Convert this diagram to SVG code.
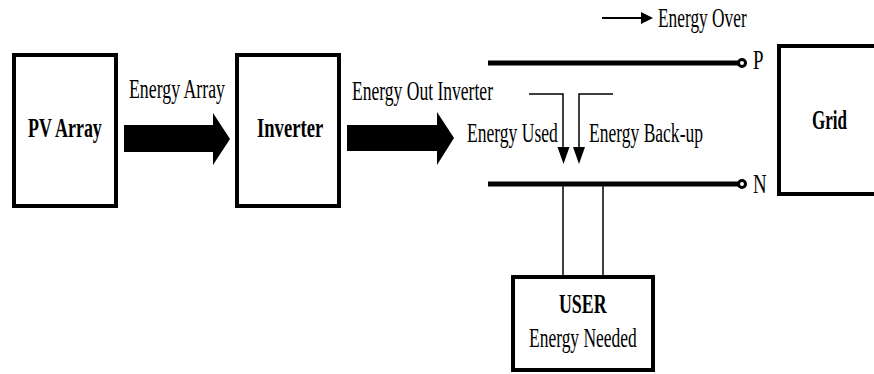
<svg xmlns="http://www.w3.org/2000/svg" width="874" height="374" viewBox="0 0 874 374">
  <style>
    .box { fill: #fff; stroke: #000; stroke-width: 4; }
    .thin { fill: none; stroke: #000; stroke-width: 1.5; }
    .bus { stroke: #000; stroke-width: 5; }
    .busShadow { stroke: #000; stroke-width: 5; opacity: 0.25; }
    .term { fill: #fff; stroke: #000; stroke-width: 3; }
    text { font-family: "Liberation Serif", "Times New Roman", "DejaVu Serif", serif; font-size: 27px; fill: #000; }
    .b { font-weight: bold; }
  </style>
  <defs>
    <filter id="blur" x="-5%" y="-200%" width="110%" height="500%">
      <feGaussianBlur stdDeviation="2"/>
    </filter>
  </defs>
  <rect width="874" height="374" fill="#fff"/>

  <g id="pv-array">
    <rect class="box" x="14" y="55" width="102" height="151"/>
    <text class="b" transform="translate(28,137) scale(0.664,1)">PV Array</text>
  </g>

  <g id="inverter">
    <rect class="box" x="237" y="55" width="102" height="151"/>
    <text class="b" transform="translate(257,137) scale(0.69,1)">Inverter</text>
  </g>

  <g id="grid">
    <rect class="box" x="779" y="46" width="110" height="148"/>
    <text class="b" transform="translate(812,129) scale(0.63,1)">Grid</text>
  </g>

  <g id="user">
    <rect class="box" x="513" y="277" width="140" height="93"/>
    <text class="b" transform="translate(559,313) scale(0.66,1)">USER</text>
    <text transform="translate(529,347) scale(0.647,1)">Energy Needed</text>
  </g>

  <g id="bus-p">
    <line class="busShadow" filter="url(#blur)" x1="490" y1="66" x2="738" y2="66"/>
    <line class="bus" x1="488" y1="63" x2="738" y2="63"/>
    <circle class="term" cx="742" cy="63" r="3.5"/>
    <text transform="translate(753,69) scale(0.7,1)">P</text>
  </g>

  <g id="bus-n">
    <line class="busShadow" filter="url(#blur)" x1="490" y1="187" x2="738" y2="187"/>
    <line class="bus" x1="488" y1="184" x2="738" y2="184"/>
    <circle class="term" cx="742" cy="184" r="3.5"/>
    <text transform="translate(753,193) scale(0.7,1)">N</text>
  </g>

  <g id="connectors">
    <polygon points="124,125 213,125 213,113 230,139 213,165 213,152 124,152" fill="#000"/>
    <text transform="translate(129,98) scale(0.659,1)">Energy Array</text>

    <polygon points="347,125 437,125 437,112 454,138 437,165 437,151 347,151" fill="#000"/>
    <text transform="translate(352,100) scale(0.65,1)">Energy Out Inverter</text>

    <polyline class="thin" points="529,94 563,94 563,148"/>
    <polygon points="557.5,147 569.5,147 563.5,164" fill="#000"/>
    <polyline class="thin" points="613,94 579,94 579,148"/>
    <polygon points="573,147 585,147 579,164" fill="#000"/>
    <text transform="translate(467,142) scale(0.65,1)">Energy Used</text>
    <text transform="translate(589,142) scale(0.649,1)">Energy Back-up</text>

    <line class="thin" x1="563" y1="186" x2="563" y2="276"/>
    <line class="thin" x1="603" y1="186" x2="603" y2="276"/>

    <line x1="602" y1="18" x2="643" y2="18" stroke="#000" stroke-width="2"/>
    <polygon points="641,12 653,18 641,24" fill="#000"/>
    <text transform="translate(658,27) scale(0.642,1)">Energy Over</text>
  </g>
</svg>
